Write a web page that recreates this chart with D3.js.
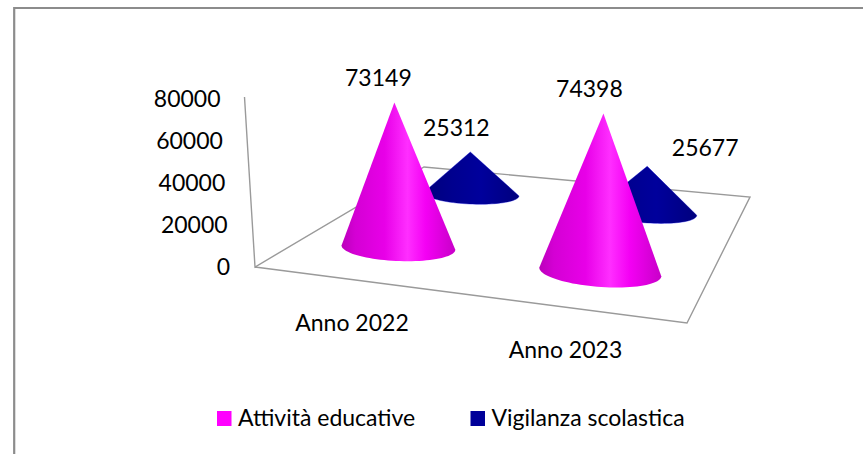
<!DOCTYPE html>
<html><head><meta charset="utf-8">
<script src="https://cdn.jsdelivr.net/npm/d3@7"></script>
<style>html,body{margin:0;padding:0;background:#fff}svg{display:block}text{font-family:Lato,"Open Sans",sans-serif;fill:#000}</style>
</head><body><svg id="c" width="863" height="454"></svg>
<script>
const categories = ["Anno 2022", "Anno 2023"];
const seriesNames = ["Attività educative", "Vigilanza scolastica"];
const attivitaEducative = [73149, 74398];
const vigilanzaScolastica = [25312, 25677];
const seriesColors = ["#ff00ff", "#000099"];
const valueDomain = [0, 80000];

// layout (not data)
const W = 863, H = 454, FS = 23;
const floorFL = [255, 267], floorFR = [687, 323], floorBR = [750, 197], floorBL = [424, 167], axisTop = [244.5, 97];
const labelNudges = [[[-16, -17], [-14, -16]], [[-14, -16], [58, -10]]];

const svg = d3.select("#c");
svg.append("rect").attr("width", W).attr("height", H).attr("fill", "#fff");
svg.append("path").attr("d", `M14.2,${H}V8H${W}`).attr("fill", "none").attr("stroke", "#8c8c8c").attr("stroke-width", 2.2);

// scales
const uScale = d3.scalePoint().domain(categories).range([0.23, 0.735]);
const vScale = d3.scalePoint().domain(seriesNames).range([0.305, 0.81]);
const depthRadius = d3.scaleLinear().domain([194, 271]).range([47.5, 61]);
const depthRy = d3.scaleLinear().domain([194, 271]).range([10, 15]);
const depthUnit = d3.scaleLinear().domain([194, 271]).range([0.00166, 0.002124]);
const leanScale = d3.scaleLinear().domain([0, 1]).range([-0.05, 0.045]);
const tiltScale = d3.scaleLinear().domain([0, 1]).range([0.025, 0.09]);
const tickY = d3.scaleLinear().domain(valueDomain).range([275, 107]);
const tickX = d3.scaleLinear().domain(valueDomain).range([230, 220.5]);
const catX = d3.scalePoint().domain(categories).range([352, 565.5]);
const catY = d3.scalePoint().domain(categories).range([331, 357.5]);

function floor(u, v) {
  const fx = floorFL[0] + (floorFR[0] - floorFL[0]) * u, fy = floorFL[1] + (floorFR[1] - floorFL[1]) * u;
  const bx = floorBL[0] + (floorBR[0] - floorBL[0]) * u, by = floorBL[1] + (floorBR[1] - floorBL[1]) * u;
  return [fx + (bx - fx) * v, fy + (by - fy) * v];
}

// gradients
const defs = svg.append("defs");
const gradStops = [
  [[0, "#bb00bb"], [0.12, "#d400d4"], [0.38, "#e800e8"], [0.58, "#ff2eff"], [0.74, "#f400f4"], [1, "#c800c8"]],
  [[0, "#00007c"], [0.3, "#00008f"], [0.6, "#00009c"], [1, "#00007e"]]
];
gradStops.forEach((stops, i) => {
  const g = defs.append("linearGradient").attr("id", "g" + i).attr("x1", 0).attr("x2", 1).attr("y1", 0).attr("y2", 0);
  stops.forEach(s => g.append("stop").attr("offset", s[0]).attr("stop-color", s[1]));
});

// floor + wall
const gl = d3.line();
svg.append("path").attr("d", gl([axisTop, floorFL, floorBL, floorBR, floorFR, floorFL]))
  .attr("fill", "none").attr("stroke", "#9a9a9a").attr("stroke-width", 1.4).attr("stroke-linejoin", "miter");

// y tick labels
tickY.ticks(4).forEach(t => {
  svg.append("text").attr("x", tickX(t)).attr("y", tickY(t)).attr("text-anchor", "end").attr("font-size", FS).text(t);
});
// category labels
categories.forEach(c => {
  svg.append("text").attr("x", catX(c)).attr("y", catY(c)).attr("text-anchor", "middle").attr("font-size", FS).text(c);
});

// cones, back row first
const rows = [
  { s: 1, name: seriesNames[1], values: vigilanzaScolastica },
  { s: 0, name: seriesNames[0], values: attivitaEducative }
];
const labels = [];
rows.forEach(row => {
  row.values.forEach((val, ci) => {
    const cat = categories[ci], u = uScale(cat), v = vScale(row.name);
    const [cx, cy] = floor(u, v);
    const r = depthRadius(cy), ry = depthRy(cy), h = val * depthUnit(cy);
    const tilt = tiltScale(u), ax = cx + h * leanScale(u), ay = cy - h;
    const a0 = -tilt * 0 - 0.0;
    const pts = [[ax, ay]].concat(d3.range(0, 181, 4).map(d => {
      const t = (180 - d) * Math.PI / 180;
      const ex = r * Math.cos(t), ey = ry * Math.sin(t);
      return [cx + ex * Math.cos(tilt) - ey * Math.sin(tilt), cy + ex * Math.sin(tilt) + ey * Math.cos(tilt)];
    }));
    const line = d3.line();
    if (row.s === 1) {
      svg.append("path").attr("d", line(pts) + "Z").attr("fill", "none").attr("stroke", "#2a2aff").attr("stroke-width", 0.8)
        .attr("stroke-opacity", 0.6);
    }
    svg.append("path").attr("d", line(pts) + "Z").attr("fill", `url(#g${row.s})`);
    const nudge = labelNudges[ci][row.s];
    labels.push({ x: ax + nudge[0], y: ay + nudge[1], text: val });
  });
});
labels.forEach(l => svg.append("text").attr("x", l.x).attr("y", l.y).attr("text-anchor", "middle").attr("font-size", FS).text(l.text));

// legend
const legX = d3.scaleOrdinal().domain(seriesNames).range([217, 470.5]);
seriesNames.forEach((n, i) => {
  svg.append("rect").attr("x", legX(n)).attr("y", 411).attr("width", 14.5).attr("height", 15).attr("fill", seriesColors[i]);
  svg.append("text").attr("x", legX(n) + 21).attr("y", 425.5).attr("font-size", FS).text(n);
});
</script></body></html>
